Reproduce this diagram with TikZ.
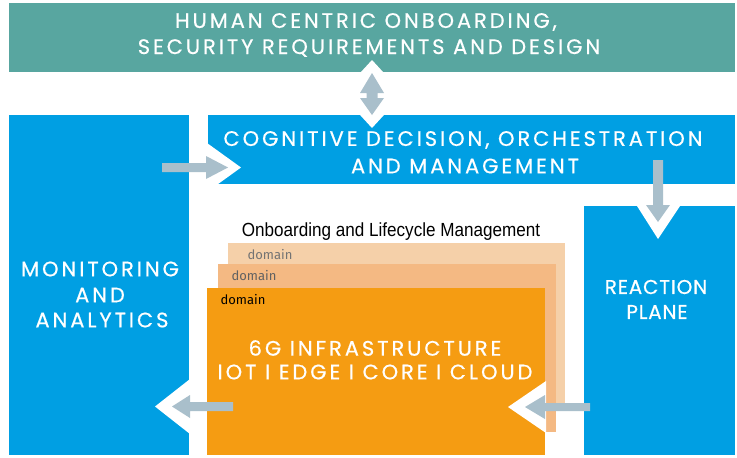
\documentclass[tikz,border=0pt]{standalone}
\usepackage{fontspec}
\setmainfont{Fira Sans}
\newfontfamily\hfont[LetterSpace=14,FakeBold=0.5]{Poppins}
\newfontfamily\rfont[LetterSpace=4,FakeBold=0.5]{Poppins}
\newfontfamily\cfont[FakeStretch=0.9]{Liberation Sans}
\definecolor{teal1}{HTML}{58A6A0}
\definecolor{blue1}{HTML}{009FE3}
\definecolor{orange1}{HTML}{F59C12}
\definecolor{tan1}{HTML}{F4B983}
\definecolor{peach1}{HTML}{F5D0A9}
\definecolor{grey1}{HTML}{A9BFCB}
\begin{document}
\begin{tikzpicture}[x=1pt,y=-1pt,
  head/.style={text=white,font=\hfont\fontsize{21}{21}\selectfont,inner sep=0pt},
  rhead/.style={text=white,font=\rfont\fontsize{20}{20}\selectfont,inner sep=0pt},
  dom/.style={font=\fontsize{13}{13}\selectfont,inner sep=0pt},
  greyarr/.style={fill=grey1,draw=none},
  whitearr/.style={fill=white,draw=none}]
\useasboundingbox (0,0) rectangle (737,458);
% boxes
\fill[teal1] (9,3) rectangle (735,72);
\fill[blue1] (9,115) rectangle (189,455);
\fill[blue1] (208,115) rectangle (735,184);
\fill[blue1] (584,206) rectangle (735,455);
\fill[peach1] (228,243) rectangle (565,408);
\fill[tan1] (218,264) rectangle (556,432);
\fill[orange1] (207,288) rectangle (545,455);
% texts
\node[head] (t1) at (366,22) {HUMAN CENTRIC ONBOARDING,};
\node[head] (t2) at (369,48) {SECURITY REQUIREMENTS AND DESIGN};
\node[head] (c1) at (463,140) {COGNITIVE DECISION, ORCHESTRATION};
\node[head] (c2) at (465,166) {AND MANAGEMENT};
\node[head] (m1) at (100,269) {MONITORING};
\node[head] (m2) at (100,295) {AND};
\node[head] (m3) at (102,320) {ANALYTICS};
\node[rhead] (r1) at (656,287) {REACTION};
\node[rhead] (r2) at (657,312) {PLANE};
\node[head] (g1) at (375,348) {6G INFRASTRUCTURE};
\node[head] (g2) at (375,372) {IOT I EDGE I CORE I CLOUD};
\node[font=\cfont\fontsize{19}{19}\selectfont,inner sep=0pt] (ol) at (391,232) {Onboarding and Lifecycle Management};
\node[dom,text=black!55] (d1) at (270,255) {domain};
\node[dom,text=black!62] (d2) at (254,276) {domain};
\node[dom,text=black] (d3) at (243,300) {domain};
% vertical double arrow
\fill[whitearr] (372,60) -- (395,85) -- (349,85) -- cycle;
\fill[whitearr] (372,128) -- (395,103) -- (349,103) -- cycle;
\fill[greyarr] (372,73) -- (384,93) -- (377.5,93) -- (377.5,98) -- (384,98) -- (372,115)
  -- (360,98) -- (366.5,98) -- (366.5,93) -- (360,93) -- cycle;
% arrow into cognitive
\fill[whitearr] (207,143) -- (241,167.5) -- (207,192) -- cycle;
\fill[greyarr] (162,163) -- (206,163) -- (206,156) -- (228,167.5) -- (206,179) -- (206,172) -- (162,172) -- cycle;
% arrow down into reaction plane
\fill[whitearr] (637,206) -- (658,239) -- (680,206) -- cycle;
\fill[greyarr] (653,160) -- (663,160) -- (663,205) -- (670,205) -- (658,222) -- (646,205) -- (653,205) -- cycle;
% arrow from orange to left box
\fill[whitearr] (155,406.5) -- (190,379) -- (190,434) -- cycle;
\fill[greyarr] (233,402) -- (190,402) -- (190,395) -- (172,406.5) -- (190,418) -- (190,411) -- (233,411) -- cycle;
% arrow from reaction plane into orange
\fill[whitearr] (508,407) -- (546,381) -- (546,433) -- cycle;
\fill[greyarr] (590,403) -- (545,403) -- (545,395) -- (525,407) -- (545,419) -- (545,411) -- (590,411) -- cycle;
\end{tikzpicture}
\end{document}
